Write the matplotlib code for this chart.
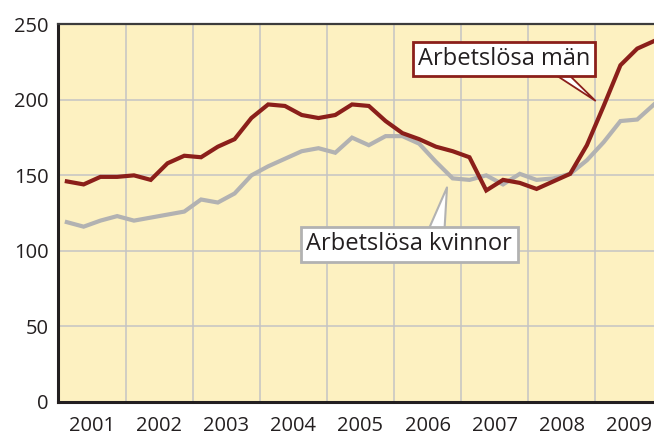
import matplotlib
matplotlib.use("Agg")
import matplotlib.pyplot as plt
import numpy as np

plt.rcParams['font.family'] = ['Open Sans', 'DejaVu Sans']

years = [2001, 2002, 2003, 2004, 2005, 2006, 2007, 2008, 2009]
year_labels = ["2001", "2002", "2003", "2004", "2005", "2006", "2007", "2008", "2009"]
# quarterly values, 2001 Q1 .. 2009 Q4
men = [146, 144, 149, 149, 150, 147, 158, 163, 162, 169, 174, 188,
       197, 196, 190, 188, 190, 197, 196, 186, 178, 174, 169, 166,
       162, 140, 147, 145, 141, 146, 151, 170, 196, 223, 234, 239]
women = [119, 116, 120, 123, 120, 122, 124, 126, 134, 132, 138, 150,
         156, 161, 166, 168, 165, 175, 170, 176, 176, 171, 159, 148,
         147, 150, 144, 151, 147, 148, 151, 160, 172, 186, 187, 197]
label_men = "Arbetslösa män"
label_women = "Arbetslösa kvinnor"

x = np.array([years[0] + (i + 0.5) / 4 for i in range(len(men))])

fig = plt.figure(figsize=(6.54, 4.37), dpi=100)
ax = fig.add_axes([0.0894, 0.0808, 1 - 0.0894, 0.944 - 0.0808])
ax.set_facecolor('#fdf1c1')

red = '#8b1f1a'
gray = '#b2b2b2'

ax.plot(x, women, color=gray, lw=3, solid_joinstyle='miter', zorder=3)
ax.plot(x, men, color=red, lw=3, solid_joinstyle='miter', zorder=4)

ax.set_xlim(2001, 2009.875)
ax.set_ylim(0, 250)
ax.set_yticks([0, 50, 100, 150, 200, 250])
ax.set_xticks(years[1:])
ax.set_xticklabels([])
ax.set_xticks([y + 0.5 for y in years], minor=True)
ax.set_xticklabels(year_labels, minor=True)
ax.tick_params(axis='both', which='both', length=0, labelsize=14.5, colors='#231f20')
ax.tick_params(axis='y', pad=7)
ax.tick_params(axis='x', which='minor', pad=10)

ax.grid(True, which='major', color='#c4c4c4', lw=1.1, zorder=1)
ax.set_axisbelow(True)

for s in ['left', 'bottom']:
    ax.spines[s].set_linewidth(2.2)
    ax.spines[s].set_color('#231f20')
ax.spines['top'].set_linewidth(1.6)
ax.spines['top'].set_color('#3c3c3c')
ax.spines['right'].set_visible(False)

ax.annotate(label_men, xy=(2009.0, 199.5), xytext=(2007.64, 227.1),
            ha='center', va='center', fontsize=17, color='#231f20', zorder=6,
            bbox=dict(boxstyle='square,pad=0.22', fc='white', ec=red, lw=2),
            arrowprops=dict(arrowstyle='wedge,tail_width=0.4,shrink_factor=0.5',
                            fc='white', ec=red, lw=1.3, relpos=(0.815, 0.0),
                            patchA=None, shrinkA=0, shrinkB=0))

ax.annotate(label_women, xy=(2006.79, 142), xytext=(2006.23, 104.2),
            ha='center', va='center', fontsize=17, color='#231f20', zorder=6,
            bbox=dict(boxstyle='square,pad=0.22', fc='white', ec=gray, lw=2),
            arrowprops=dict(arrowstyle='wedge,tail_width=0.7,shrink_factor=0.5',
                            fc='white', ec=gray, lw=1.5, relpos=(0.63, 1.0),
                            patchA=None, shrinkA=0, shrinkB=0))

fig.savefig('out.png', dpi=100)
